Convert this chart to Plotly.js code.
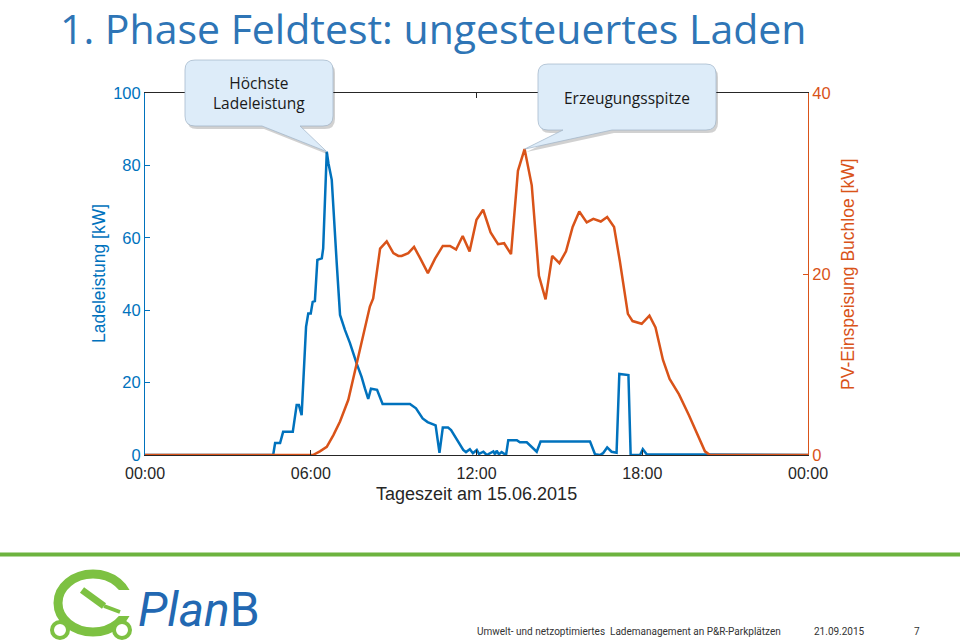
<!DOCTYPE html>
<html>
<head>
<meta charset="utf-8">
<script src="https://cdn.plot.ly/plotly-3.0.1.min.js"></script>
<style>html,body{margin:0;padding:0;background:#fff;}#chart{width:960px;height:641px;}</style>
</head>
<body>
<div id="chart"></div>
<script>
// ---- data (hours of day, kW) ----
const chargeTime = [0,4.64,4.71,4.89,5.00,5.35,5.49,5.57,5.67,5.83,5.91,6.00,6.07,6.15,6.24,6.40,6.45,6.58,6.64,6.76,6.94,7.06,7.24,7.42,7.66,7.84,7.96,8.08,8.18,8.40,8.60,9.59,9.81,10.05,10.23,10.52,10.66,10.78,10.97,11.08,11.52,11.62,11.76,11.87,12.01,12.09,12.25,12.37,12.61,12.67,12.73,12.81,12.91,13.07,13.15,13.46,13.57,13.82,14.18,14.32,16.11,16.29,16.47,16.58,16.73,16.89,17.07,17.17,17.50,17.58,17.92,18.02,18.16,24];
const chargeKW   = [0,0,3.3,3.3,6.4,6.4,13.8,13.8,11,35.4,39.1,39.1,42.3,42.5,53.9,54.3,57.1,83.8,80.6,76,53,38.7,34.5,30.9,25.3,21.6,18.4,15.5,18.3,18,14.1,14.1,12.9,10.1,9.1,8.2,0.6,7.6,7.6,6.9,1.4,0.8,1.6,0.5,1.4,0.3,0.9,0,1,0.2,1.2,0.2,0.8,0,4.1,4.1,3.5,3.5,0.9,3.7,3.7,0.2,0,0.5,2.1,0.9,0.6,22.4,22.1,0,0,1.6,0.2,0];
const pvTime = [0,6.08,6.33,6.58,6.82,7.06,7.36,7.66,7.96,8.14,8.26,8.51,8.75,8.99,9.17,9.29,9.53,9.74,9.95,10.24,10.50,10.78,11.04,11.26,11.50,11.75,12.00,12.24,12.51,12.78,13.00,13.25,13.50,13.74,14.00,14.26,14.50,14.74,15.00,15.24,15.48,15.72,15.99,16.23,16.50,16.73,16.98,17.19,17.48,17.65,17.98,18.26,18.48,18.75,18.99,19.33,19.69,20.01,20.27,20.45,24];
const pvKW   = [0,0,0.4,0.9,2.2,3.7,6.1,10.1,14.2,16.4,17.3,22.8,23.6,22.3,22,22,22.3,23,21.8,20.1,21.7,23.1,23.1,22.7,24.2,22.5,26,27.1,24.6,23.3,23.4,22.2,31.4,33.8,29.8,19.8,17.2,22,21.2,22.5,25.2,26.9,25.7,26.1,25.8,26.3,25.2,21.4,15.6,14.8,14.5,15.4,14.1,10.5,8.4,6.7,4.4,2.2,0.4,0,0];
const xTickVals = [0,6,12,18,24];
const xTickText = ['00:00','06:00','12:00','18:00','00:00'];
const yLeftTicks = [0,20,40,60,80,100];
const yRightTicks = [0,20,40];

// ---- geometry helpers (pixel -> paper) ----
const L=145, R=808, T=93, B=455, W=R-L, H=B-T;
const xRange=[0,24], yRange=[0,100], y2Range=[0,40];
function px(x){return (x-L)/W;}
function py(y){return (B-y)/H;}
function P(x,y){return px(x).toFixed(5)+','+py(y).toFixed(5);}
function dataPx(h){return L + (h-xRange[0])/(xRange[1]-xRange[0])*W;}
function dataPy(v,rng){return B - (v-rng[0])/(rng[1]-rng[0])*H;}

function calloutPath(x0,y0,x1,y1,r,bL,bR,tx,ty,dx,dy){
  dx=dx||0;dy=dy||0;
  const p=(x,y)=>P(x+dx,y+dy);
  return 'M'+p(x0+r,y0)+' L'+p(x1-r,y0)+' Q'+p(x1,y0)+' '+p(x1,y0+r)+
    ' L'+p(x1,y1-r)+' Q'+p(x1,y1)+' '+p(x1-r,y1)+
    ' L'+p(bR,y1)+' L'+p(tx,ty)+' L'+p(bL,y1)+
    ' L'+p(x0+r,y1)+' Q'+p(x0,y1)+' '+p(x0,y1-r)+
    ' L'+p(x0,y0+r)+' Q'+p(x0,y0)+' '+p(x0+r,y0)+' Z';
}

// peaks from data
let iC=0; chargeKW.forEach((v,i)=>{if(v>chargeKW[iC])iC=i;});
let iP=0; pvKW.forEach((v,i)=>{if(v>pvKW[iP])iP=i;});
const tip1=[dataPx(chargeTime[iC]), dataPy(chargeKW[iC],yRange)];
const tip2=[dataPx(pvTime[iP]), dataPy(pvKW[iP],y2Range)];

const blue='#0072BD', orange='#D95319', dark='#262626';
const boxFill='#DDECF9', boxLine='rgba(160,180,200,0.7)', shadow='rgba(0,0,0,0.18)';

const shapes=[
  {type:'path',xref:'paper',yref:'paper',path:calloutPath(185,60,333,126,10,262,300,tip1[0],tip1[1],2,3),fillcolor:shadow,line:{width:0}},
  {type:'path',xref:'paper',yref:'paper',path:calloutPath(185,60,333,126,10,262,300,tip1[0],tip1[1]),fillcolor:boxFill,line:{color:boxLine,width:1}},
  {type:'path',xref:'paper',yref:'paper',path:calloutPath(538,64,716,130,10,563,612,tip2[0],tip2[1],2,3),fillcolor:shadow,line:{width:0}},
  {type:'path',xref:'paper',yref:'paper',path:calloutPath(538,64,716,130,10,563,612,tip2[0],tip2[1]),fillcolor:boxFill,line:{color:boxLine,width:1}},
  // footer line
  {type:'line',xref:'paper',yref:'paper',x0:px(0),x1:px(960),y0:py(554.5),y1:py(554.5),line:{color:'#6DB33F',width:4}},
  // logo ring
  {type:'circle',xref:'paper',yref:'paper',x0:px(58),x1:px(128),y0:py(574),y1:py(632),line:{color:'#7DC142',width:9},fillcolor:'rgba(0,0,0,0)'},
  {type:'rect',xref:'paper',yref:'paper',x0:px(112),x1:px(134),y0:py(590),y1:py(616),line:{width:0},fillcolor:'#ffffff'},
  {type:'circle',xref:'paper',yref:'paper',x0:px(52),x1:px(68),y0:py(622),y1:py(638),line:{color:'#7DC142',width:4},fillcolor:'#ffffff'},
  {type:'circle',xref:'paper',yref:'paper',x0:px(114),x1:px(130),y0:py(622),y1:py(638),line:{color:'#7DC142',width:4},fillcolor:'#ffffff'},
  {type:'line',xref:'paper',yref:'paper',x0:px(82),x1:px(104),y0:py(590),y1:py(606),line:{color:'#7DC142',width:7}},
  {type:'line',xref:'paper',yref:'paper',x0:px(104),x1:px(120),y0:py(606),y1:py(612),line:{color:'#7DC142',width:4}}
];

const sans='Liberation Sans, Arial, sans-serif';
const cal='Open Sans, Noto Sans, sans-serif';
const annotations=[
  {text:'1. Phase Feldtest: ungesteuertes Laden',xref:'paper',yref:'paper',x:px(58),y:py(28),xanchor:'left',yanchor:'middle',showarrow:false,font:{family:cal,size:41,color:'#2E75B6'}},
  {text:'Höchste<br>Ladeleistung',xref:'paper',yref:'paper',x:px(259),y:py(93),xanchor:'center',yanchor:'middle',showarrow:false,font:{family:cal,size:15.5,color:'#1a1a1a'}},
  {text:'Erzeugungsspitze',xref:'paper',yref:'paper',x:px(627),y:py(98),xanchor:'center',yanchor:'middle',showarrow:false,font:{family:cal,size:15.5,color:'#1a1a1a'}},
  {text:'Tageszeit am 15.06.2015',xref:'paper',yref:'paper',x:px(476),y:py(494),xanchor:'center',yanchor:'middle',showarrow:false,font:{family:sans,size:18,color:dark}},
  {text:'Ladeleistung [kW]',xref:'paper',yref:'paper',x:px(99),y:py(274),textangle:-90,xanchor:'center',yanchor:'middle',showarrow:false,font:{family:sans,size:17.5,color:blue}},
  {text:'PV-Einspeisung Buchloe [kW]',xref:'paper',yref:'paper',x:px(848),y:py(274),textangle:-90,xanchor:'center',yanchor:'middle',showarrow:false,font:{family:sans,size:17.5,color:orange}},
  {text:'<i>Plan</i>B',xref:'paper',yref:'paper',x:px(136),y:py(609),xanchor:'left',yanchor:'middle',showarrow:false,font:{family:'Liberation Sans Narrow, Roboto, sans-serif',size:48,color:'#2268B2'}},
  {text:'Umwelt- und netzoptimiertes  Lademanagement an P&R-Parkplätzen',xref:'paper',yref:'paper',x:px(475),y:py(631),xanchor:'left',yanchor:'middle',showarrow:false,font:{family:'Roboto, sans-serif',size:10,color:'#333'}},
  {text:'21.09.2015',xref:'paper',yref:'paper',x:px(812),y:py(631),xanchor:'left',yanchor:'middle',showarrow:false,font:{family:'Roboto, sans-serif',size:10,color:'#333'}},
  {text:'7',xref:'paper',yref:'paper',x:px(917),y:py(631),xanchor:'center',yanchor:'middle',showarrow:false,font:{family:'Roboto, sans-serif',size:10,color:'#333'}}
];

const data=[
  {x:chargeTime,y:chargeKW,type:'scatter',mode:'lines',line:{color:blue,width:2.5},yaxis:'y',hoverinfo:'skip'},
  {x:pvTime,y:pvKW,type:'scatter',mode:'lines',line:{color:orange,width:2.5},yaxis:'y2',hoverinfo:'skip'}
];

const layout={
  width:960,height:641,
  margin:{l:L,r:960-R,t:T,b:641-B,pad:0},
  paper_bgcolor:'#fff',plot_bgcolor:'#fff',
  showlegend:false,
  xaxis:{range:xRange,tickvals:xTickVals,ticktext:xTickText,ticks:'inside',ticklen:5,tickcolor:dark,
    showline:true,linecolor:dark,linewidth:1,mirror:'ticks',showgrid:false,zeroline:false,ticklabelstandoff:4,
    tickfont:{family:sans,size:16,color:dark}},
  yaxis:{range:yRange,tickvals:yLeftTicks,ticks:'inside',ticklen:5,tickcolor:blue,showline:true,linecolor:blue,
    linewidth:1,showgrid:false,zeroline:false,tickfont:{family:sans,size:16.5,color:blue}},
  yaxis2:{range:y2Range,tickvals:yRightTicks,overlaying:'y',side:'right',ticks:'inside',ticklen:5,tickcolor:orange,
    showline:true,linecolor:orange,linewidth:1,showgrid:false,zeroline:false,tickfont:{family:sans,size:16.5,color:orange}},
  shapes:shapes,
  annotations:annotations
};
Plotly.newPlot('chart',data,layout,{staticPlot:true,displayModeBar:false});
</script>
</body>
</html>
